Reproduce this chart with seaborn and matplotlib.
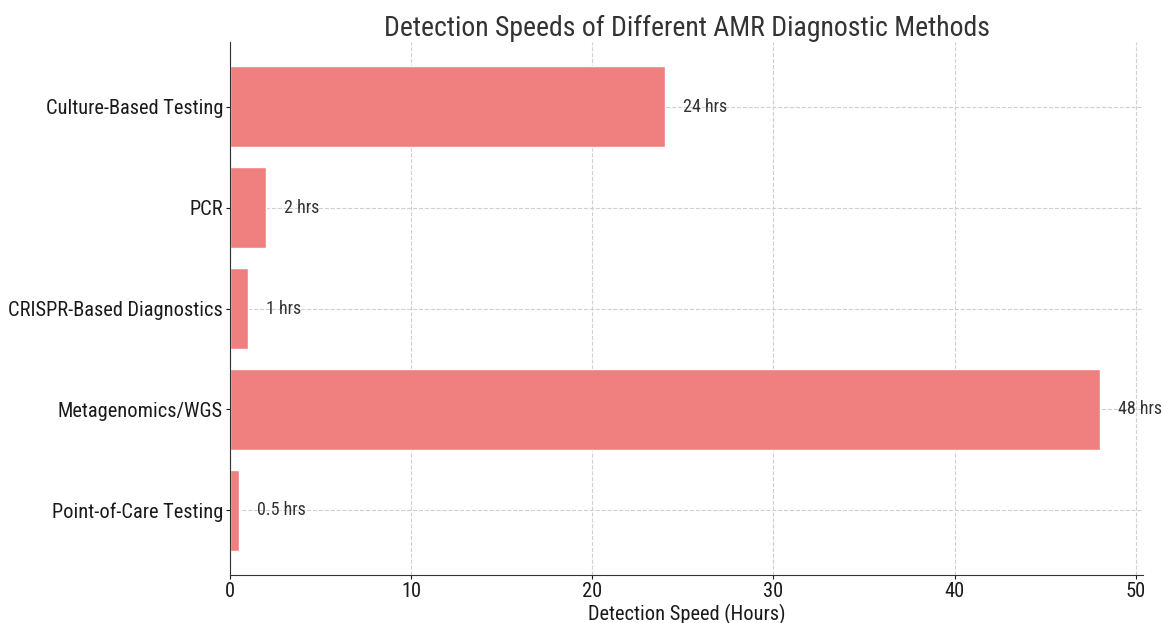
import matplotlib
matplotlib.use("Agg")
import matplotlib.pyplot as plt
import seaborn as sns
import pandas as pd

methods = ["Culture-Based Testing", "PCR", "CRISPR-Based Diagnostics",
           "Metagenomics/WGS", "Point-of-Care Testing"]
hours = [24, 2, 1, 48, 0.5]
labels = ["24 hrs", "2 hrs", "1 hrs", "48 hrs", "0.5 hrs"]

sns.set_style("white")
plt.rcParams["font.family"] = ["Roboto Condensed", "DejaVu Sans"]

df = pd.DataFrame({"method": methods, "hours": hours})

fig = plt.figure(figsize=(11.64, 6.23), dpi=100)
ax = fig.add_axes([0.1976, 0.077, 0.7844, 0.8556])
sns.barplot(data=df, x="hours", y="method", orient="h", color="lightcoral",
            saturation=1, width=0.8, ax=ax)

# value labels just right of each bar
for i, (v, t) in enumerate(zip(hours, labels)):
    ax.text(v + 1, i, t, va="center", ha="left", fontsize=13, color="#333333")

ax.set_xlim(0, 50.4)
ax.set_ylim(4.64, -0.64)
ax.grid(True, linestyle="--", color="#d0d0d0", linewidth=0.8)
ax.set_axisbelow(True)
for s in ["top", "right"]:
    ax.spines[s].set_visible(False)
ax.spines["left"].set_color("#333333")
ax.spines["bottom"].set_color("#333333")
ax.tick_params(axis="both", labelsize=14.7, colors="#1a1a1a", length=3, pad=2,
               left=True, bottom=True)
ax.set_ylabel("")
ax.set_xlabel("Detection Speed (Hours)", fontsize=14.7, color="#1a1a1a", labelpad=2)
ax.set_title("Detection Speeds of Different AMR Diagnostic Methods", fontsize=20,
             color="#333333", pad=4)

fig.savefig("out.png", dpi=100)
